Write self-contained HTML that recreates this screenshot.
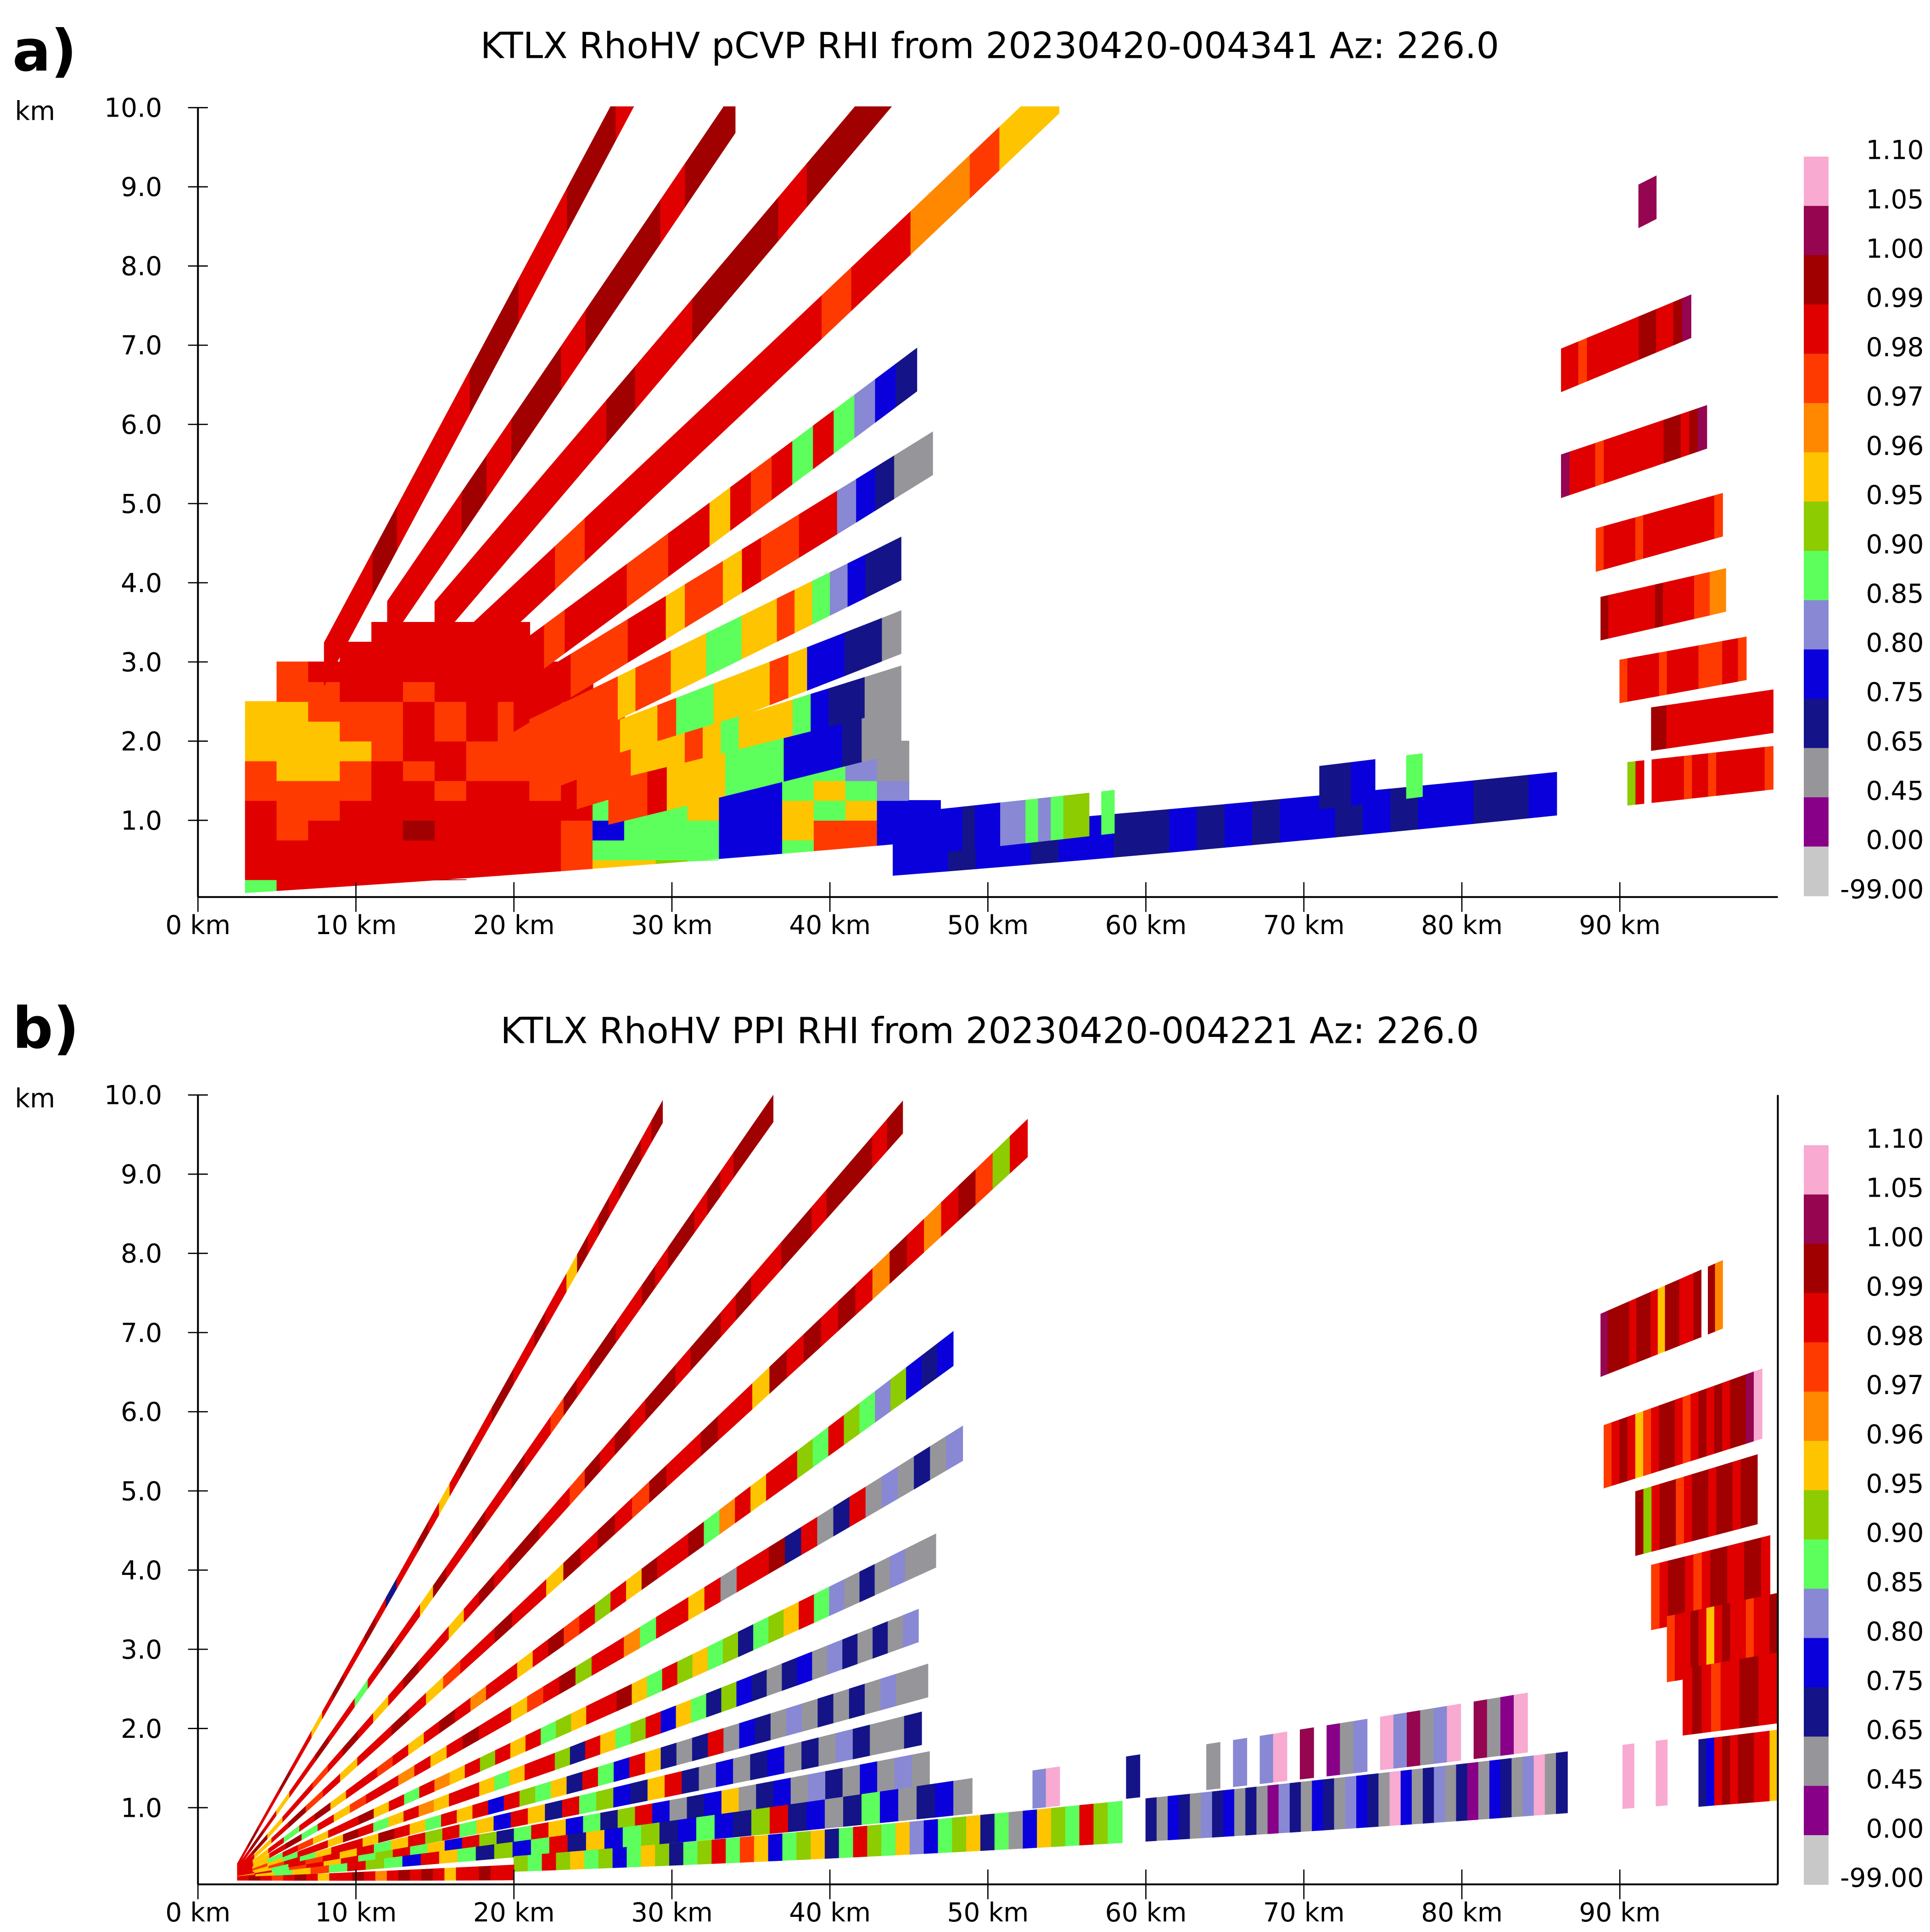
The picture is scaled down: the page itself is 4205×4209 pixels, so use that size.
<!DOCTYPE html>
<html><head><meta charset="utf-8"><title>KTLX RhoHV RHI</title>
<style>html,body{margin:0;padding:0;background:#fff;}svg{display:block;}
text{font-family:"DejaVu Sans","Liberation Sans",sans-serif;fill:#000;}</style></head>
<body>
<svg id="chart" xmlns="http://www.w3.org/2000/svg" width="4205" height="4209" viewBox="0 0 1560 1561.5" preserveAspectRatio="none">
<defs>
<clipPath id="clipA"><rect x="160" y="86" width="1277" height="639"/></clipPath>
<clipPath id="clipB"><rect x="160" y="884" width="1277" height="639"/></clipPath>
</defs>
<text x="10" y="57" font-size="46" font-weight="bold">a)</text>
<text x="800" y="47" font-size="29" text-anchor="middle">KTLX RhoHV pCVP RHI from 20230420-004341 Az: 226.0</text>
<text x="10" y="847" font-size="46" font-weight="bold">b)</text>
<text x="800" y="843" font-size="29" text-anchor="middle">KTLX RhoHV PPI RHI from 20230420-004221 Az: 226.0</text>
<g id="dataA" clip-path="url(#clipA)"></g>
<g id="dataB" clip-path="url(#clipB)"></g>
<g id="axes"></g>
</svg>
<script>
// ---- colour classes ----
const cbCodes = ['p','m','D','R','O','o','Y','y','G','L','B','N','g','P','w'];
const cbColors = ['#f8aad0','#950550','#a00000','#e00000','#ff3a00','#ff8800','#ffc400','#8ccc00','#5cff5c','#8888d4','#0a00dc','#141488','#96969a','#880088','#c8c8c8'];
const cbLabels = ['1.10','1.05','1.00','0.99','0.98','0.97','0.96','0.95','0.90','0.85','0.80','0.75','0.65','0.45','0.00','-99.00'];
const xTicks = [0,10,20,30,40,50,60,70,80,90];
const yTicks = [1,2,3,4,5,6,7,8,9,10];

// ---- panel a: low-level columns (2 km wide from 3 km, 0.25 km bins bottom->top) ----
const aColStart = 3;
const aColumns = [
"GRRRROOYYY....","RRROOOYYYYOO..","RRRROOYYYOOR..","RRRRROOYOORRR.","RRRRRRROOORRRR",
"RRRDRRORRRORRR","DRRRRORROORRRR","RRRRRROORRRRRR","RRRRRROOOORRRR","ORRRROOOORRR..",
"YOOORRROOOR...","YYGBGYOOOO....","YYGGGYYOO.....","yyGGGYYYO.....","yGGGYYyyY.....",
"GGBBBBBBB.....","GBBBBBBBB.....","GGGYYGGB......","GYOOGYGG......","GLOOYGLL......",
"GBBBBLgg......","BBBBB........."];
// ---- panel a: beams ----
const aBeamElev  = [21.8,16.9,13.4,10.6,8.3,6.8,5.4,4.2,3.3,2.6,0.6,0.9,0.9,4.15,3.26,2.56,1.99,1.45,1.03,0.62,5.2];
const aBeamStart = [8,12,15,17,18,20,21,22,24,26,44,46,71,86.3,86.3,88.5,88.8,90,92,90.5,91.2];
const aBeamEnd   = [28,34,44,54.5,45.5,46.5,44.5,44.5,44.5,44.5,86,58,78,94.5,95.5,96.5,96.7,98,99.7,99.7,92.3];
const aBeamCodes = [
"RRDRRRDDRRDDR","RRRDRDDRDDDRDD","RRRRRRDRRDDDRDDD","RRRORRRRRRRRORRooOYY",
"RRRORRROORRYRORGRGLBN","RRROOORRYOOYROORRLBNgg","OOOOOYOOYYGGYYOYGLBNN",
"OOOOYYOGGYYYOYBBNNg","OOOYYYOYGYYYGBNNgg","OORYYYGGGBBBNgg",
"BBNBBNBBNNBNBNBBNBNBBNNB","BBBNBBLLGLGyy.G","NNNNBBB....GG.",
"RRORRRRRRDDRRDm","mRRRORRRRRRRDDRDm","ORRRRORRRRRRRRRO","DRRRRRRDRRRROOoo",
"ORRRRORRRROOORRO","DDRRRRRRRRRRRRRR","yR.RRRRORRORRRRRRO","mm"];

// ---- panel b: beams (ranges in km from origin of axis) ----
const bBeamElev  = [20.6,16.3,12.9,10.5,8.25,6.65,5.17,4.06,3.1,2.34,1.66,1.12,1.1,0.54,0.54,0.2,4.16,3.22,2.59,1.96,1.52,1.08,0.51];
const bBeamStart = [2.5,2.5,2.5,2.5,2.5,2.5,2.5,2.5,2.5,2.5,2.5,2.5,52,20,60,2.5,88.8,89,91,92,93,94,95];
const bBeamEnd   = [29.4,36.4,44.6,52.5,47.8,48.4,46.7,45.6,46.2,45.8,46.3,49,85,58.5,93,20,96.5,99,98.7,99.5,100,100,100];
const bBeamCodes = [
"RDRRDRRYRDRRDRNRRDRYRDRRDDRRDRRYDRDRDDRD",
"RDRYRRDRRGRDRRYDRRDRRDRRODRDDRRDRDDRDRDDD",
"RDYRRORDRYRDRRYRDRDDRRODRDRDDRDDRDRRDDRDDDRD",
"RYRDORYRRDRYORRDRRYDRDRODRRDRRYDRDRDRoDRoRDOyR",
"RYRGRDYRRORYRDRoRRYRDORyRYDRRDGoRYRRyGRyGLyBNB",
"RYRDGRYORRoRYRDRRYORDyRRoGRRYRgRRDNRgNRgLgNgL",
"RYGROYRRDYRGRoYRyRYRGyYRRDYGRyYGyNGyYRGLgNgLgg",
"ROYGRRYDRGYRoYRRYGYRRyNRYGyRBYGNyBNgNBgLNgNgL",
"RYORGYRRYDRYGRYRBRyGYNRGBRYNgNRgBNgLgNgNgLgg",
"RYGRORYRGYRyRGYBRYNRGyBNYRNgBgNBgNgLNggN",
"YRGORYRGyRGYBRyNGRYBGNyRBgNBYgNBgLNgBgLg",
"RYGYOGRyGBRYGNyBGRNYBGyNBGBNyRNBgNGBgNBg",
".Lp.....N.....g.L.Lp.m.PgL.pLmgLp.mgPp.",
"yGRyYGyBGYyNGyRGOYBGyYNGRyGYLBGyYNGgBYyGRyG",
"NgBNgLNBgNgPLNgBNgLBNgpBgNLgNPgBNgLpgN.....p..p",
"RDRORDRYRRDRoRDRDRYRRDRR",
"mDDDRDDRYDDRRD.Do","ORDRYORDDRORDRDRDDmp","DyRDDORDDRDDRDD",
"ORDDRORDDRRDDR","ORRDRYRDRRORRD","RDRORRDDRR","NBRDRDDRRY"];

// ---- geometry ----
const NS = 'http://www.w3.org/2000/svg';
const X0 = 160, PXKM = 12.77, PXH = 64;
function xs(km){ return X0 + km*PXKM; }
function yA(h){ return 727 - h*PXH; }
function yB(h){ return 1525 - h*PXH; }
function colorOf(c){ const i = cbCodes.indexOf(c); return i < 0 ? null : cbColors[i]; }
const D2R = Math.PI/180;
const HALF_A = 0.27;
function hA(el, r){ return r*Math.sin(el*D2R) + r*r/16990; }
function hB(el, x){ const r = Math.max(x-2,0); return 0.1 + r*Math.sin(el*D2R) + r*r/16990; }
function halfB(x){ const r = Math.max(x-2,0); return r*Math.sin(0.25*D2R) + 0.015; }
function poly(g, pts, col){
  const p = document.createElementNS(NS,'polygon');
  p.setAttribute('points', pts.map(q=>q[0].toFixed(2)+','+q[1].toFixed(2)).join(' '));
  p.setAttribute('fill', col); p.setAttribute('stroke', col); p.setAttribute('stroke-width','0.6');
  g.appendChild(p); return p;
}

// panel a columns
const gA = document.getElementById('dataA');
function floorA(x){ return 0.05 + x*0.0122 + x*x/16990; }
aColumns.forEach((s,ci)=>{
  const x0 = aColStart + ci*2, x1 = x0 + 2;
  for (let k=0;k<s.length;k++){
    const col = colorOf(s[k]); if(!col) continue;
    const b = k*0.25, t = b+0.25;
    const f0 = Math.max(b, floorA(x0)), f1 = Math.max(b, floorA(x1));
    if (f0 >= t && f1 >= t) continue;
    const p = poly(gA, [[xs(x0),yA(t)],[xs(x1),yA(t)],[xs(x1),yA(Math.min(f1,t))],[xs(x0),yA(Math.min(f0,t))]], col);
    
    
  }
});
// panel a beams
aBeamElev.forEach((el,i)=>{
  const s = aBeamCodes[i], r0 = aBeamStart[i], r1 = aBeamEnd[i], n = s.length, dr = (r1-r0)/n;
  for (let k=0;k<n;k++){
    const col = colorOf(s[k]); if(!col) continue;
    const ra = r0+k*dr, rb = ra+dr;
    const p = poly(gA, [[xs(ra),yA(hA(el,ra)+HALF_A)],[xs(rb),yA(hA(el,rb)+HALF_A)],[xs(rb),yA(hA(el,rb)-HALF_A)],[xs(ra),yA(hA(el,ra)-HALF_A)]], col);
    
    
  }
});
// panel b beams
const gB = document.getElementById('dataB');
bBeamElev.forEach((el,i)=>{
  const s = bBeamCodes[i], x0 = bBeamStart[i], x1 = bBeamEnd[i], n = s.length, dx = (x1-x0)/n;
  for (let k=0;k<n;k++){
    const col = colorOf(s[k]); if(!col) continue;
    const xa = x0+k*dx, xb = xa+dx;
    const p = poly(gB, [[xs(xa),yB(hB(el,xa)+halfB(xa))],[xs(xb),yB(hB(el,xb)+halfB(xb))],[xs(xb),yB(hB(el,xb)-halfB(xb))],[xs(xa),yB(hB(el,xa)-halfB(xa))]], col);
    
    
  }
});

// ---- axes & colorbars ----
const gAx = document.getElementById('axes');
function line(x1,y1,x2,y2,w){
  const l = document.createElementNS(NS,'line');
  l.setAttribute('x1',x1); l.setAttribute('y1',y1); l.setAttribute('x2',x2); l.setAttribute('y2',y2);
  l.setAttribute('stroke','#000'); l.setAttribute('stroke-width', w||1.3);
  gAx.appendChild(l); return l;
}
function txt(x,y,s,anchor,size){
  const t = document.createElementNS(NS,'text');
  t.setAttribute('x',x); t.setAttribute('y',y); t.setAttribute('font-size',size||21);
  t.setAttribute('text-anchor',anchor||'start'); t.textContent = s;
  gAx.appendChild(t); return t;
}
[{yf:yA, top:87, bot:725, cbTop:126.6, right:false, kmY:97},{yf:yB, top:885, bot:1523, cbTop:925.6, right:true, kmY:895}].forEach((P,pi)=>{
  const la = line(160,P.top,160,P.bot,1.5);
  
  
  const lb = line(160,P.bot,1437,P.bot,1.5);
  
  
  if (P.right){
    const lr = line(1437,P.top,1437,P.bot,1.5);
    
    
  }
  const km = txt(12,P.kmY,'km','start',21);
  
  
  yTicks.forEach(v=>{
    const y = P.yf(v);
    const tk = line(152,y,168,y,1);
    
    
    const tl = txt(131,y+7.5,v.toFixed(1),'end',21);
    
    
  });
  xTicks.forEach(v=>{
    const x = xs(v);
    const tk = line(x,P.bot-12,x,P.bot+12,1);
    
    
    const tl = txt(x,P.bot+30,v+' km','middle',21);
    
    
  });
  const bh = 39.83;
  cbColors.forEach((c,i)=>{
    const r = document.createElementNS(NS,'rect');
    r.setAttribute('x',1458); r.setAttribute('y',P.cbTop+i*bh); r.setAttribute('width',20); r.setAttribute('height',bh+0.3);
    r.setAttribute('fill',c);
    
    
    gAx.appendChild(r);
  });
  cbLabels.forEach((s,i)=>{
    const t = txt(1555,P.cbTop+i*bh+2,s,'end',21);
    
    
  });
});
</script>
</body></html>
